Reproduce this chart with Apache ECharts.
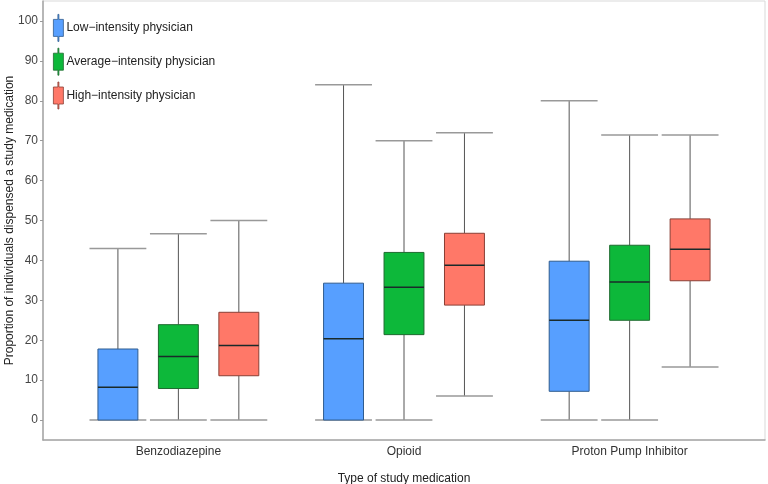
<!DOCTYPE html>
<html>
<head>
<meta charset="utf-8">
<script src="https://cdn.jsdelivr.net/npm/echarts@6/dist/echarts.min.js"></script>
<style>html,body{margin:0;padding:0;background:#fff}#c{width:768px;height:484px}</style>
</head>
<body>
<div id="c"></div>
<script>
const categories = ['Benzodiazepine', 'Opioid', 'Proton Pump Inhibitor'];
const groups = ['Low\u2212intensity physician', 'Average\u2212intensity physician', 'High\u2212intensity physician'];
const yTicks = [0, 10, 20, 30, 40, 50, 60, 70, 80, 90, 100];
// [lowWhisker, Q1, median, Q3, highWhisker] per category
const lowIntensity = [
  [0, 0, 8.2, 17.8, 43],
  [0, 0, 20.4, 34.3, 84],
  [0, 7.2, 25, 39.8, 80]
];
const averageIntensity = [
  [0, 7.9, 15.9, 23.9, 46.7],
  [0, 21.4, 33.3, 42, 70],
  [0, 25, 34.6, 43.8, 71.4]
];
const highIntensity = [
  [0, 11.1, 18.7, 27, 50],
  [6, 28.8, 38.8, 46.8, 72],
  [13.3, 34.9, 42.8, 50.4, 71.4]
];
const fills = ['#579FFF', '#0DB83A', '#FF7868'];
const borders = ['#2F5C8F', '#1F6B30', '#8A3F35'];

const seriesData = [lowIntensity, averageIntensity, highIntensity];
const offsets = [-0.268, 0, 0.268];
const boxHalf = 0.0885, capHalf = 0.126;

function makeRender(gi) {
  return function (params, api) {
    const cx = api.value(0) + offsets[gi];
    const lo = api.value(1), q1 = api.value(2), md = api.value(3), q3 = api.value(4), hi = api.value(5);
    const p = (x, y) => api.coord([x, y]);
    const L = p(cx - boxHalf, 0)[0], R = p(cx + boxHalf, 0)[0];
    const CL = p(cx - capHalf, 0)[0], CR = p(cx + capHalf, 0)[0];
    const X = p(cx, 0)[0];
    const yLo = p(cx, lo)[1], yQ1 = p(cx, q1)[1], yMd = p(cx, md)[1], yQ3 = p(cx, q3)[1], yHi = p(cx, hi)[1];
    const stem = { stroke: '#555', lineWidth: 1 };
    const cap = { stroke: '#999', lineWidth: 1.5 };
    return {
      type: 'group',
      children: [
        { type: 'line', shape: { x1: X, y1: yHi, x2: X, y2: yQ3 }, style: stem },
        { type: 'line', shape: { x1: X, y1: yQ1, x2: X, y2: yLo }, style: stem },
        { type: 'line', shape: { x1: CL, y1: yHi, x2: CR, y2: yHi }, style: cap },
        { type: 'line', shape: { x1: CL, y1: yLo, x2: CR, y2: yLo }, style: cap },
        { type: 'rect', shape: { x: L, y: yQ3, width: R - L, height: yQ1 - yQ3 },
          style: { fill: fills[gi], stroke: borders[gi], lineWidth: 1 } },
        { type: 'line', shape: { x1: L, y1: yMd, x2: R, y2: yMd }, style: { stroke: '#1a2a2a', lineWidth: 1.5 } }
      ]
    };
  };
}

const series = seriesData.map((arr, gi) => ({
  type: 'custom',
  name: groups[gi],
  renderItem: makeRender(gi),
  itemStyle: { color: fills[gi], borderColor: borders[gi], borderWidth: 1 },
  encode: { x: 0, y: [1, 2, 3, 4, 5] },
  data: arr.map((v, ci) => [ci + 1].concat(v))
}));

const iconPath = 'path://M4.5,0 L5.5,0 L5.5,5 L10,5 L10,22 L5.5,22 L5.5,27 L4.5,27 L4.5,22 L0,22 L0,5 L4.5,5 Z';

const chart = echarts.init(document.getElementById('c'), null, { renderer: 'canvas' });
chart.setOption({
  animation: false,
  textStyle: { fontFamily: 'Liberation Sans, Arial, sans-serif' },
  grid: { left: 43, right: 3, top: 1, bottom: 44, containLabel: false, outerBoundsMode: 'none',
          show: true, borderColor: '#d9d9d9', borderWidth: 1 },
  legend: {
    orient: 'vertical', left: 48, top: 9, itemWidth: 10, itemHeight: 27, itemGap: 6,
    icon: iconPath,
    textStyle: { fontSize: 12, color: '#222', fontFamily: 'Liberation Sans, Arial, sans-serif', padding: [0, 0, 0, -2] },
    data: groups.map((g, i) => ({ name: g, itemStyle: { color: fills[i], borderColor: borders[i], borderWidth: 0.8 } }))
  },
  xAxis: {
    type: 'value', min: 0.4, max: 3.6,
    name: 'Type of study medication', nameLocation: 'middle', nameGap: 33,
    nameTextStyle: { fontSize: 12, color: '#222' },
    axisLine: { show: true, onZero: false, lineStyle: { color: '#a6a6a6', width: 1.5 } },
    axisTick: { show: false },
    splitLine: { show: false },
    axisLabel: { customValues: [1, 2, 3], formatter: v => categories[Math.round(v) - 1], fontSize: 12, color: '#333', margin: 6 }
  },
  yAxis: {
    type: 'value', min: -5, max: 105,
    name: 'Proportion of individuals dispensed a study medication', nameLocation: 'middle', nameGap: 27,
    nameMoveOverlap: false,
    nameTextStyle: { fontSize: 12, color: '#222' },
    axisLine: { show: true, onZero: false, lineStyle: { color: '#a6a6a6', width: 1.5 } },
    axisTick: { show: true, length: 3, customValues: yTicks, lineStyle: { color: '#999' } },
    splitLine: { show: false },
    axisLabel: { customValues: yTicks, fontSize: 12, color: '#444', margin: 5 }
  },
  series: series
});
</script>
</body>
</html>
